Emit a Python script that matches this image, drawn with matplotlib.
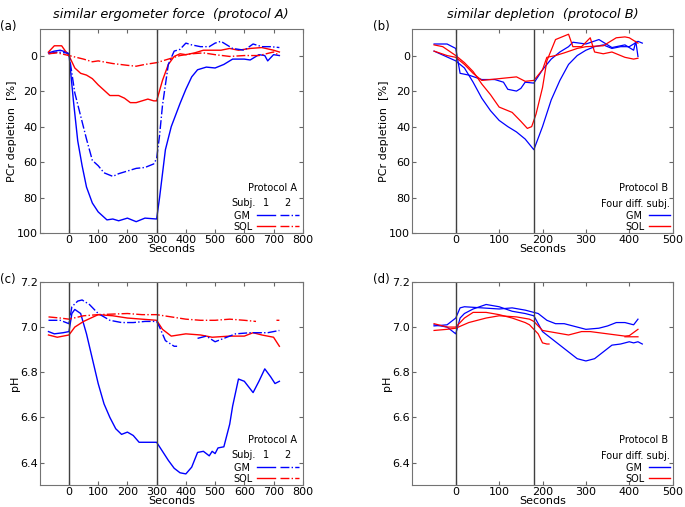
import numpy as np
import matplotlib
matplotlib.use("Agg")
from matplotlib import pyplot as plt

nan = np.nan

# ---- panel (a): PCr depletion, protocol A ----
a_gm1_t = [-70, -50, -30, -10, 0, 15, 30, 45, 60, 80, 100, 130, 150, 170, 200, 230, 260, 300,
           310, 330, 350, 380, 400, 420, 440, 470, 500, 530, 560, 600, 620, 650, 670, 680, 700, 720]
a_gm1_v = [-1.5, -2.5, -3, -2, -1, 25, 48, 62, 74, 83, 88, 92.5, 92, 93, 91.5, 93.5, 91.5, 92,
           80, 53, 40, 27, 19, 12, 8, 6.5, 7, 5, 2, 2, 2.5, -0.5, 0, 3, -0.5, 0]
a_gm2_t = [-70, -40, -10, 0, 20, 40, 60, 80, 100, 120, 150, 170, 200, 230, 260, 290, 300,
           310, 320, 340, 360, 380, 400, 420, 450, 480, 500, 520, 540, 560, 600, 630, 660, 690, 720]
a_gm2_v = [-1, -2, -1.5, -1, 21, 34, 47, 59, 62, 66, 68, 66.5, 65, 63.5, 63, 61, 58,
           45, 28, 5, -2.5, -3.5, -7, -6, -5, -5, -7, -8, -6, -4, -3, -6.5, -5, -5, -4.5]
a_sol1_t = [-70, -50, -25, -10, 0, 20, 40, 60, 80, 100, 120, 140, 170, 190, 210, 230, 250, 270, 290, 300,
            320, 340, 360, 380, 400, 430, 460, 490, 520, 550, 580, 620, 660, 700, 720]
a_sol1_v = [-2, -5.5, -5.5, -2, 0, 7, 10, 11, 13, 16.5, 19.5, 22.5, 22.5, 24, 26.5, 26.5, 25.5, 24.5, 25.5, 25.5,
            14, 5, 0.5, -1, -0.5, -1.5, -3, -3, -3, -4, -3, -4, -4.5, -3, -2]
a_sol2_t = [-70, -40, 0, 50, 80, 100, 150, 200, 230, 260, 300, 340, 380, 420, 460, 500, 550, 600, 650, 700, 720]
a_sol2_v = [-1, -1.5, 0, 2, 3.5, 3, 4.5, 5.5, 6, 5, 4, 2, 0, -1, -1.5, -0.5, 0.5, 0, 0, -2, 0]

# ---- panel (b): PCr depletion, protocol B ----
b_gm1_t = [-50, 0, 20, 40, 60, 80, 100, 120, 140, 160, 180, 200, 220, 240, 260, 280, 300, 320, 340, 360, 380, 400, 420, 430]
b_gm1_v = [-2.5, 3, 7, 15, 24, 31, 36.5, 40, 43, 47, 53, 40, 25, 14, 5, 0, -3, -5, -6, -4, -5, -5, -8, -7]
b_gm2_t = [-50, -20, 0, 10, 30, 60, 90, 110, 120, 140, 150, 160, 180, 200, 220, 240, 260, 270, 300, 330, 360, 390, 410, 415, 420]
b_gm2_v = [-6.5, -6.5, -4, 10, 11, 13.5, 13.5, 15, 19, 20, 18.5, 15, 15.5, 8, 2, -2, -5, -7.5, -6.5, -9, -4.5, -6, -3, -8, 0.5]
b_sol1_t = [-50, -30, 0, 20, 40, 60, 80, 100, 130, 150, 165, 175, 185, 200, 210, 230, 260, 270, 290, 310, 320, 340, 360, 390, 410, 420]
b_sol1_v = [-6, -5, 0, 4, 9, 16, 22, 29, 32, 37, 41, 40, 33, 18, 3, -9, -12, -5, -5, -10, -2, -1, -2, 1, 2, 1.5]
b_sol2_t = [-50, -20, 0, 20, 40, 60, 80, 100, 120, 140, 160, 180, 200, 210, 230, 250, 280, 300, 340, 370, 390, 400, 420]
b_sol2_v = [-2.5, 0, 1, 5, 10, 14, 13.5, 13, 12.5, 12, 14.5, 14, 8, 1, 0, -1.5, -4, -5, -5.5, -10, -10.5, -10, -7]

# ---- panel (c): pH, protocol A ----
c_gm1_t = [-70, -50, -20, 0, 10, 20, 40, 60, 80, 100, 120, 140, 160, 180, 200, 220, 240, 260, 300,
           320, 340, 360, 380, 400, 420, 440, 460, 480, 490, 500, 510, 530, 550, 560, 580, 600, 630, 650, 670, 690, 705, 720]
c_gm1_v = [6.98, 6.97, 6.975, 6.98, 7.06, 7.078, 7.06, 6.97, 6.86, 6.75, 6.66, 6.6, 6.55, 6.525, 6.535, 6.52, 6.49, 6.49, 6.49,
           6.45, 6.41, 6.375, 6.355, 6.35, 6.38, 6.445, 6.45, 6.43, 6.45, 6.44, 6.465, 6.47, 6.57, 6.65, 6.77, 6.76, 6.71, 6.76, 6.815, 6.78, 6.75, 6.76]
c_gm2_t = [-70, -30, 0, 10, 30, 45, 70, 100, 140, 180, 220, 260, 300, 310, 330, 360, 370,
           400, 440, 470, 500, 530, 570, 620, 680, 720]
c_gm2_v = [7.03, 7.03, 7.015, 7.09, 7.115, 7.12, 7.1, 7.06, 7.03, 7.02, 7.02, 7.025, 7.025, 7.0, 6.94, 6.915, 6.915,
           nan, 6.95, 6.96, 6.935, 6.95, 6.97, 6.975, 6.975, 6.985]
c_sol1_t = [-70, -40, 0, 20, 50, 100, 150, 200, 250, 300, 320, 350, 400, 450, 490, 550, 600, 630, 660, 700, 720]
c_sol1_v = [6.965, 6.955, 6.965, 7.0, 7.025, 7.055, 7.05, 7.04, 7.035, 7.03, 6.99, 6.96, 6.97, 6.965, 6.955, 6.96, 6.96, 6.975, 6.965, 6.955, 6.915]
c_sol2_t = [-70, -30, 0, 50, 100, 200, 250, 300, 350, 400, 450, 500, 550, 600, 640, 670, 710, 720]
c_sol2_v = [7.045, 7.04, 7.035, 7.05, 7.055, 7.06, 7.055, 7.055, 7.045, 7.035, 7.03, 7.03, 7.035, 7.03, 7.025, nan, 7.03, 7.03]

# ---- panel (d): pH, protocol B ----
d_gm1_t = [-50, -20, 0, 10, 20, 40, 70, 100, 130, 160, 180, 200, 220, 240, 260, 280, 300, 320, 340, 360, 380, 400, 410, 420, 430]
d_gm1_v = [7.01, 7.0, 6.97, 7.04, 7.06, 7.08, 7.1, 7.09, 7.07, 7.06, 7.05, 6.98, 6.95, 6.92, 6.89, 6.86, 6.85, 6.86, 6.89, 6.92, 6.925, 6.935, 6.93, 6.935, 6.925]
d_gm2_t = [-50, -20, 0, 10, 20, 60, 100, 130, 160, 190, 210, 230, 250, 270, 300, 330, 350, 370, 390, 410, 420]
d_gm2_v = [7.005, 7.01, 7.04, 7.085, 7.09, 7.085, 7.08, 7.085, 7.075, 7.06, 7.03, 7.015, 7.015, 7.005, 6.99, 6.995, 7.005, 7.02, 7.02, 7.01, 7.035]
d_sol1_t = [-50, -20, 0, 20, 40, 70, 100, 130, 160, 170, 190, 200, 210, 215, 300, 390, 420]
d_sol1_v = [7.015, 7.0, 7.0, 7.04, 7.065, 7.065, 7.055, 7.04, 7.02, 7.01, 6.97, 6.93, 6.925, 6.925, nan, 6.957, 6.957]
d_sol2_t = [-50, -20, 0, 30, 70, 100, 140, 170, 180, 200, 230, 260, 290, 310, 350, 390, 400, 420]
d_sol2_v = [6.985, 6.99, 6.995, 7.02, 7.04, 7.05, 7.045, 7.035, 7.025, 6.985, 6.975, 6.965, 6.98, 6.98, 6.97, 6.96, 6.962, 6.99]

TICK_FS = 8
LAB_FS = 8
LEG_FS = 7

fig = plt.figure(figsize=(6.85, 5.07), dpi=100)
ax_a = fig.add_axes([0.058, 0.540, 0.384, 0.403])
ax_b = fig.add_axes([0.602, 0.540, 0.380, 0.403])
ax_c = fig.add_axes([0.058, 0.043, 0.384, 0.401])
ax_d = fig.add_axes([0.602, 0.043, 0.380, 0.401])


def style(ax, xmax, stop, ylabel):
    ax.set_xlim(-100, xmax)
    ax.set_xticks(range(0, xmax + 1, 100))
    ax.axvline(0, color='0.25', lw=1)
    ax.axvline(stop, color='0.25', lw=1)
    ax.tick_params(direction='in', top=True, right=True, labelsize=TICK_FS, length=3,
                   color='0.4', pad=1.5)
    for s in ax.spines.values():
        s.set_color('0.45')
    ax.set_xlabel('Seconds', fontsize=LAB_FS, labelpad=-1)
    ax.set_ylabel(ylabel, fontsize=LAB_FS, labelpad=0)


# (a)
ax_a.plot(a_gm1_t, a_gm1_v, 'b-', lw=1)
ax_a.plot(a_sol1_t, a_sol1_v, 'r-', lw=1)
ax_a.plot(a_gm2_t, a_gm2_v, 'b-.', lw=1)
ax_a.plot(a_sol2_t, a_sol2_v, 'r-.', lw=1)
ax_a.set_ylim(100, -15)
ax_a.set_yticks([0, 20, 40, 60, 80, 100])
style(ax_a, 800, 300, 'PCr depletion  [%]')

# (b)
for t, v in [(b_gm1_t, b_gm1_v), (b_gm2_t, b_gm2_v)]:
    ax_b.plot(t, v, 'b-', lw=0.9)
for t, v in [(b_sol1_t, b_sol1_v), (b_sol2_t, b_sol2_v)]:
    ax_b.plot(t, v, 'r-', lw=0.9)
ax_b.set_ylim(100, -15)
ax_b.set_yticks([0, 20, 40, 60, 80, 100])
style(ax_b, 500, 180, 'PCr depletion  [%]')

# (c)
ax_c.plot(c_gm1_t, c_gm1_v, 'b-', lw=1)
ax_c.plot(c_sol1_t, c_sol1_v, 'r-', lw=1)
ax_c.plot(c_gm2_t, c_gm2_v, 'b-.', lw=1)
ax_c.plot(c_sol2_t, c_sol2_v, 'r-.', lw=1)
ax_c.set_ylim(6.3, 7.2)
ax_c.set_yticks([6.4, 6.6, 6.8, 7.0, 7.2])
style(ax_c, 800, 300, 'pH')

# (d)
for t, v in [(d_gm1_t, d_gm1_v), (d_gm2_t, d_gm2_v)]:
    ax_d.plot(t, v, 'b-', lw=0.9)
for t, v in [(d_sol1_t, d_sol1_v), (d_sol2_t, d_sol2_v)]:
    ax_d.plot(t, v, 'r-', lw=0.9)
ax_d.set_ylim(6.3, 7.2)
ax_d.set_yticks([6.4, 6.6, 6.8, 7.0, 7.2])
style(ax_d, 500, 180, 'pH')

# legends: column 1 = subject 1 (solid), column 2 = subject 2 (dash-dot)
for ax in (ax_a, ax_c):
    hs = ax.get_lines()[:4]
    ax.legend(hs, ['GM ', 'SOL', '', ''], ncol=2, loc='lower right', bbox_to_anchor=(0.99, 0.0),
              frameon=False, markerfirst=False, fontsize=LEG_FS,
              handlelength=1.9, handletextpad=0.4, columnspacing=0.1, labelspacing=0.1,
              borderpad=0.15, borderaxespad=0.0)
    ax.text(0.977, 0.22, 'Protocol A', transform=ax.transAxes, ha='right', va='center', fontsize=LEG_FS)
    ax.text(0.73, 0.147, 'Subj.', transform=ax.transAxes, ha='left', va='center', fontsize=LEG_FS)
    ax.text(0.859, 0.147, '1', transform=ax.transAxes, ha='center', va='center', fontsize=LEG_FS)
    ax.text(0.943, 0.147, '2', transform=ax.transAxes, ha='center', va='center', fontsize=LEG_FS)

for ax in (ax_b, ax_d):
    h = [plt.Line2D([], [], color='b', lw=1), plt.Line2D([], [], color='r', lw=1)]
    ax.legend(h, ['GM ', 'SOL'], loc='lower right', bbox_to_anchor=(0.995, 0.0),
              frameon=False, markerfirst=False, fontsize=LEG_FS,
              handlelength=2.2, handletextpad=0.4, labelspacing=0.1,
              borderpad=0.15, borderaxespad=0.0)
    ax.text(0.982, 0.22, 'Protocol B', transform=ax.transAxes, ha='right', va='center', fontsize=LEG_FS)
    ax.text(0.99, 0.142, 'Four diff. subj.', transform=ax.transAxes, ha='right', va='center', fontsize=LEG_FS)

ax_a.set_title('similar ergometer force  (protocol A)', fontsize=9.3, style='italic', pad=8)
ax_b.set_title('similar depletion  (protocol B)', fontsize=9.3, style='italic', pad=8)

fig.text(0.0, 0.947, '(a)', fontsize=8.5, va='center')
fig.text(0.545, 0.947, '(b)', fontsize=8.5, va='center')
fig.text(0.0, 0.448, '(c)', fontsize=8.5, va='center')
fig.text(0.545, 0.448, '(d)', fontsize=8.5, va='center')

fig.savefig('out.png', dpi=100)
